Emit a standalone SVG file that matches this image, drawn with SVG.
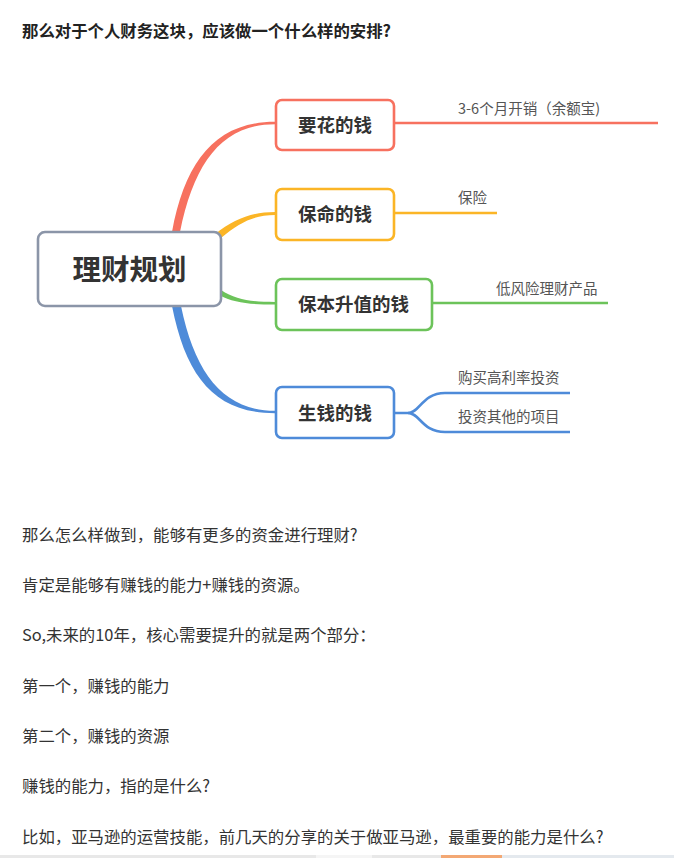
<svg xmlns="http://www.w3.org/2000/svg" width="674" height="858" viewBox="0 0 674 858">
<style>
text{font-family:"Noto Sans CJK SC","Noto Sans",sans-serif;}
.title{font-size:16.4px;font-weight:bold;fill:#222;}
.body{font-size:16.4px;fill:#333;}
.root{font-size:28.5px;font-weight:bold;fill:#333;}
.node{font-size:18.5px;font-weight:bold;fill:#333;}
.leaf{font-size:14.5px;fill:#555;}
.box{fill:#fff;stroke-width:2.6;}
.ln{fill:none;stroke-width:2.6;}
</style>
<rect width="674" height="858" fill="#fff"/>
<text class="title" x="22" y="37">那么对于个人财务这块，应该做一个什么样的安排?</text>

<g id="connectors">
  <path d="M172,232 C185,162 215,121.8 275,121.8 L275,124.2 C222,124.2 194,163 180,232 Z" fill="#f7715f"/>
  <path d="M215,234 C234,219 252,212 275,212 L275,215 C254,215 240,222 221,238 Z" fill="#fbb526"/>
  <path d="M221,290 C236,300 252,302 275,302 L275,304.5 C250,304.5 234,303 219,295 Z" fill="#6cc35a"/>
  <path d="M172,306 C186,377 215,413.2 275,413.2 L275,410.8 C224,410.8 195,374 181,306 Z" fill="#4e8bd9"/>
  <path class="ln" stroke="#f7715f" d="M394,123 H658"/>
  <path class="ln" stroke="#fbb526" d="M394,213 H497"/>
  <path class="ln" stroke="#6cc35a" d="M432,303 H608"/>
  <path class="ln" stroke="#4e8bd9" d="M394,413 H408 C420,413 422,393 445,393 H570"/>
  <path class="ln" stroke="#4e8bd9" d="M408,413 C420,413 422,432 445,432 H570"/>
</g>

<g id="root">
  <rect class="box" x="38" y="232" width="183" height="74" rx="7" stroke="#8b95a8" stroke-width="3"/>
  <text class="root" x="129.5" y="280" text-anchor="middle">理财规划</text>
</g>
<g id="n1">
  <rect class="box" x="276" y="100" width="118" height="50" rx="6" stroke="#f7715f"/>
  <text class="node" x="335" y="131.5" text-anchor="middle">要花的钱</text>
</g>
<g id="n2">
  <rect class="box" x="276" y="189" width="118" height="51" rx="6" stroke="#fbb526"/>
  <text class="node" x="335" y="221" text-anchor="middle">保命的钱</text>
</g>
<g id="n3">
  <rect class="box" x="276" y="279" width="156" height="51" rx="6" stroke="#6cc35a"/>
  <text class="node" x="353.5" y="311" text-anchor="middle">保本升值的钱</text>
</g>
<g id="n4">
  <rect class="box" x="276" y="387" width="118" height="51" rx="6" stroke="#4e8bd9"/>
  <text class="node" x="335" y="419.5" text-anchor="middle">生钱的钱</text>
</g>
<g id="leaf1"><text class="leaf" x="458" y="114">3-6个月开销（余额宝)</text></g>
<g id="leaf2"><text class="leaf" x="458" y="203">保险</text></g>
<g id="leaf3"><text class="leaf" x="496" y="294">低风险理财产品</text></g>
<g id="leaf4"><text class="leaf" x="458" y="383">购买高利率投资</text></g>
<g id="leaf5"><text class="leaf" x="458" y="422">投资其他的项目</text></g>

<text class="body" x="22" y="541">那么怎么样做到，能够有更多的资金进行理财?</text>
<text class="body" x="22" y="591">肯定是能够有赚钱的能力+赚钱的资源。</text>
<text class="body" x="22" y="641">So,未来的10年，核心需要提升的就是两个部分：</text>
<text class="body" x="22" y="692">第一个，赚钱的能力</text>
<text class="body" x="22" y="742">第二个，赚钱的资源</text>
<text class="body" x="22" y="792">赚钱的能力，指的是什么?</text>
<text class="body" x="22" y="843">比如，亚马逊的运营技能，前几天的分享的关于做亚马逊，最重要的能力是什么?</text>

<rect x="0" y="855" width="674" height="3" fill="#e8e8e8"/>
<rect x="316" y="855" width="56" height="3" fill="#f5f5f5"/>
<rect x="441" y="855" width="61" height="3" fill="#f3a874"/>
<rect x="502" y="855" width="172" height="3" fill="#e4e9ee"/>
</svg>
